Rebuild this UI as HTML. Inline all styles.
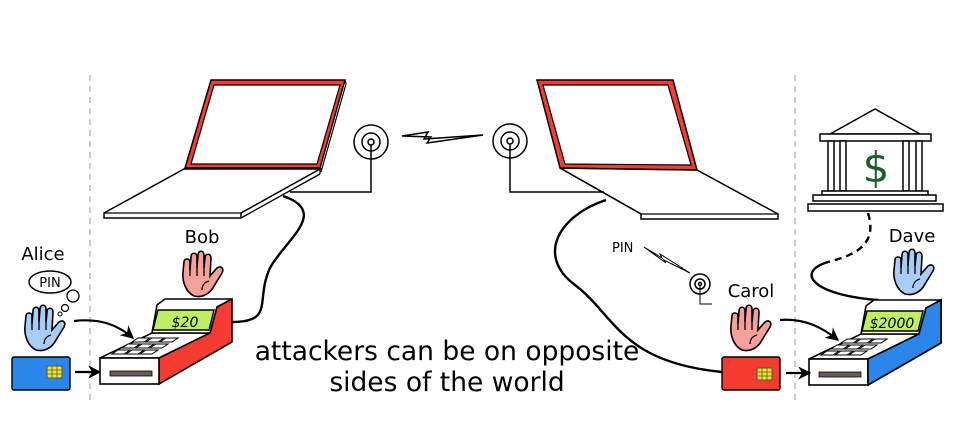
<!DOCTYPE html>
<html><head><meta charset="utf-8"><style>
html,body{margin:0;padding:0;background:#fff;}
svg{display:block;}
text{font-family:"DejaVu Sans","Liberation Sans",sans-serif;}
</style></head><body>
<svg width="956" height="424" viewBox="0 0 956 424" xmlns="http://www.w3.org/2000/svg">
<defs>
<marker id="ah" viewBox="0 0 10 10" refX="9" refY="5" markerWidth="6" markerHeight="6" orient="auto"><path d="M0,0 L10,5 L0,10 L3,5 Z" fill="#000"/></marker>
<g id="hand">
<path d="M12,44 C4,40 0,30 1,20 L2,10 C2,6 8,6 8,10 L8,18 L9,5 C9,0 15,0 15,5 L15,16 L16,3 C16,-2 22,-2 22,3 L22,16 L23,6 C23,1 29,1 29,6 L28,24 L34,17 C37,13 43,15 40,21 L32,34 C28,42 20,46 12,44 Z" stroke="#000" stroke-width="1.6"/>
<path d="M8,18 L8,24 M15,16 L15,24 M22,16 L22,24 M20,38 C20,33 23,30 27,29" fill="none" stroke="#000" stroke-width="1.3"/>
</g>
<g id="term">
<polygon points="100,358 159,358 210,333 152,333" fill="#fff" stroke="#000" stroke-width="1.6"/>
<g fill="#fff" stroke="#000" stroke-width="1">
<polygon points="112,354 124,354 130,350 118,350"/><polygon points="126,354 138,354 144,350 132,350"/><polygon points="140,354 152,354 158,350 146,350"/>
<polygon points="122,348 134,348 140,344 128,344"/><polygon points="136,348 148,348 154,344 142,344"/><polygon points="150,348 162,348 168,344 156,344"/>
<polygon points="132,342 144,342 150,338 138,338"/><polygon points="146,342 158,342 164,338 152,338"/><polygon points="160,342 172,342 178,338 166,338"/>
</g>
<polygon points="152,333 210,333 217,307 232,299 165,299 157,305" fill="#fff" stroke="#000" stroke-width="1.6"/>
<polygon points="158,310 214,310 209,330 153,330" fill="#bdee63" stroke="#000" stroke-width="1.4"/>
<polygon points="159,358 210,333 217,307 232,299 232,342 159,384" fill="#f53c30" stroke="#000" stroke-width="1.6"/>
<rect x="100" y="358" width="59" height="26" fill="#fff" stroke="#000" stroke-width="1.6"/>
<rect x="110" y="371" width="42" height="5" fill="#6b5a54" stroke="#000" stroke-width="0.8"/>
</g>
<g id="chip"><rect width="15" height="12" rx="1.5" fill="#f2e51b" stroke="#555" stroke-width="1"/><path d="M0,4 H15 M0,8 H15 M5,0 V12 M10,0 V12" stroke="#555" stroke-width="0.8" fill="none"/></g>
</defs>

<line x1="90" y1="75" x2="90" y2="400" stroke="#ccc" stroke-width="2" stroke-dasharray="6,5"/>
<line x1="795" y1="75" x2="795" y2="400" stroke="#ccc" stroke-width="2" stroke-dasharray="6,5"/>

<!-- wires -->
<path d="M283,196 C330,212 285,240 270,268 C255,300 275,322 232,322" fill="none" stroke="#000" stroke-width="2.4"/>
<path d="M606,200 C560,215 535,255 575,285 C615,315 620,362 722,372" fill="none" stroke="#000" stroke-width="2.4"/>
<path d="M868,213 C878,245 855,255 828,262" fill="none" stroke="#000" stroke-width="2.4" stroke-dasharray="7,5"/>
<path d="M828,262 C795,272 812,295 878,300" fill="none" stroke="#000" stroke-width="2.4"/>

<!-- left laptop -->
<polygon points="104,213 184,169 320,169 241,213 241,218 104,218" fill="#fff" stroke="#000" stroke-width="1.5"/>
<line x1="104" y1="213" x2="241" y2="213" stroke="#000" stroke-width="1.3"/>
<line x1="241" y1="218" x2="320" y2="174" stroke="#000" stroke-width="1.3"/><line x1="320" y1="169" x2="320" y2="174" stroke="#000" stroke-width="1.3"/>
<polygon points="211,80 345,80 320,168 185,168" fill="#f53c30" stroke="#000" stroke-width="1.5"/>
<polygon points="214,85 340,85 317,164 191,164" fill="#fff" stroke="#000" stroke-width="1.2"/>
<line x1="345" y1="80" x2="346" y2="84" stroke="#000" stroke-width="1.2"/><line x1="346" y1="84" x2="321" y2="172" stroke="#000" stroke-width="1.2"/>

<!-- right laptop -->
<polygon points="560,168 697,170 778,214 778,219 641,219 641,214" fill="#fff" stroke="#000" stroke-width="1.5"/>
<line x1="641" y1="214" x2="778" y2="214" stroke="#000" stroke-width="1.3"/>
<line x1="560" y1="168" x2="641" y2="214" stroke="#000" stroke-width="1.3"/>
<polygon points="537,80 673,80 697,170 560,168" fill="#f53c30" stroke="#000" stroke-width="1.5"/>
<polygon points="543,85 668,85 691,165 565,164" fill="#fff" stroke="#000" stroke-width="1.2"/>

<!-- antennas -->
<g fill="none" stroke="#000" stroke-width="1.5">
<circle cx="371" cy="142" r="17"/><circle cx="371" cy="142" r="9"/><circle cx="371" cy="142" r="3"/>
<polyline points="371,145 371,192 290,192"/>
<circle cx="510" cy="141" r="17"/><circle cx="510" cy="141" r="9"/><circle cx="510" cy="141" r="3"/>
<polyline points="510,144 510,192 604,192"/>
<polygon points="402,136 428,132 424,139 483,135 427,143 431,137"/>
<circle cx="700" cy="284" r="10"/><circle cx="700" cy="284" r="5"/><circle cx="700" cy="284" r="1.5"/>
<polyline points="700,286 700,304 712,304" stroke-width="1"/>
<polygon points="644,247 662,258 660,254 690,273 664,260 666,263" stroke-width="1"/>
</g>
<text x="612" y="252" font-size="13">PIN</text>

<!-- bank -->
<g fill="#fff" stroke="#000" stroke-width="1.5">
<polygon points="830,134 875,109 920,134"/>
<rect x="820" y="134" width="111" height="7"/>
<rect x="828" y="141" width="6" height="50"/><rect x="840" y="141" width="6" height="50"/>
<rect x="903" y="141" width="6" height="50"/><rect x="916" y="141" width="6" height="50"/>
<rect x="822" y="191" width="106" height="4"/>
<rect x="813" y="195" width="123" height="6"/>
<rect x="808" y="204" width="135" height="7"/>
</g>
<text x="876" y="182" font-size="42" fill="#1a5e2a" text-anchor="middle" font-family="Liberation Sans,sans-serif">$</text>

<!-- terminals -->
<use href="#term"/>
<use href="#term" transform="translate(709,1)"/>
<polygon points="868,359 919,334 926,308 941,300 941,343 868,385" fill="#2a86e8" stroke="#000" stroke-width="1.6"/>
<text x="185" y="327" font-size="14" font-style="italic" text-anchor="middle">$20</text>
<text x="892" y="328" font-size="14" font-style="italic" text-anchor="middle">$2000</text>

<!-- cards -->
<rect x="12" y="357" width="58" height="33" rx="2" fill="#2a86e8" stroke="#000" stroke-width="1.4"/>
<use href="#chip" x="47" y="366"/>
<rect x="722" y="357" width="58" height="33" rx="2" fill="#f53c30" stroke="#000" stroke-width="1.4"/>
<use href="#chip" x="757" y="368"/>

<!-- arrows -->
<g fill="none" stroke="#000" stroke-width="2.2" marker-end="url(#ah)">
<line x1="75" y1="372" x2="100" y2="372"/>
<line x1="786" y1="373" x2="810" y2="373"/>
<path d="M74,321 C100,318 118,325 133,338"/>
<path d="M780,320 C805,318 823,328 838,340"/>
</g>

<!-- hands -->
<use href="#hand" x="24" y="306" fill="#a9cdf7"/>
<use href="#hand" x="182" y="252" fill="#f5a09a"/>
<use href="#hand" x="730" y="306" fill="#f5a09a"/>
<use href="#hand" x="893" y="250" fill="#a9cdf7"/>

<!-- Alice thought -->
<ellipse cx="50" cy="282" rx="21" ry="11" fill="#fff" stroke="#000" stroke-width="1.5"/>
<text x="50" y="287" font-size="13" text-anchor="middle">PIN</text>
<circle cx="73" cy="296" r="6" fill="#fff" stroke="#000" stroke-width="1.3"/>
<circle cx="65" cy="308" r="3.5" fill="#fff" stroke="#000" stroke-width="1.2"/>
<circle cx="60" cy="314" r="2" fill="#fff" stroke="#000" stroke-width="1"/>

<!-- labels -->
<g font-size="18" text-anchor="middle" style="font-family:'Liberation Sans',sans-serif">
<text x="43" y="260">Alice</text>
<text x="202" y="243">Bob</text>
<text x="751" y="297">Carol</text>
<text x="912" y="242">Dave</text>
</g>
<text x="447" y="360" font-size="26.5" text-anchor="middle">attackers can be on opposite</text>
<text x="447" y="391" font-size="26.5" text-anchor="middle">sides of the world</text>
</svg>
</body></html>
